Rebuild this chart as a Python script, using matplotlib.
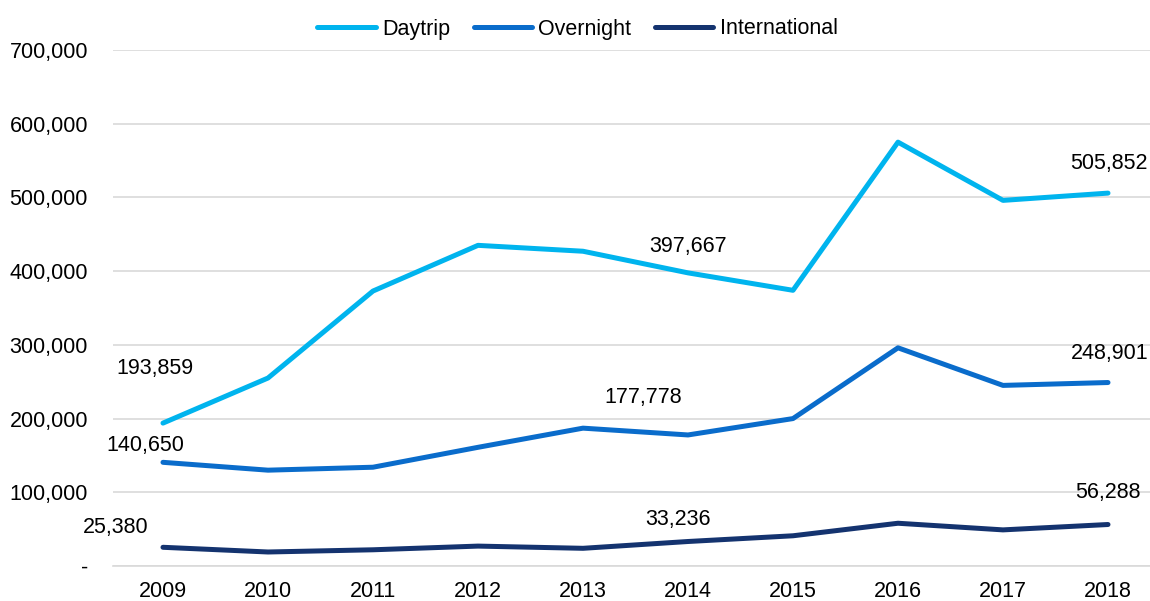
import matplotlib.pyplot as plt
from matplotlib.ticker import FuncFormatter

plt.rcParams['font.family'] = ['Liberation Sans', 'DejaVu Sans']

years = ['2009', '2010', '2011', '2012', '2013', '2014', '2015', '2016', '2017', '2018']
daytrip = [193859, 255000, 373000, 435000, 427000, 397667, 374000, 575000, 496000, 505852]
overnight = [140650, 130000, 134000, 161000, 187000, 177778, 200000, 296000, 245000, 248901]
international = [25380, 19000, 22000, 27000, 24000, 33236, 41000, 58000, 49000, 56288]

# which points get a value label, and where (offset in points)
labelled = {
    'Daytrip': [(0, (-6, 39)), (5, (0, 19)), (9, (1, 21))],
    'Overnight': [(0, (-13, 12)), (5, (-32, 27)), (9, (1, 21))],
    'International': [(0, (-34, 14)), (5, (-7, 16)), (9, (0, 23))],
}

FS = 15.5

fig = plt.figure(figsize=(11.5, 6.01), dpi=100)
ax = fig.add_axes([113 / 1150, 1 - 566 / 601, 1 - 113 / 1150, (566 - 50) / 601])

x = range(len(years))
series = [('Daytrip', daytrip, '#00B4EE'),
          ('Overnight', overnight, '#0A6CCB'),
          ('International', international, '#14336F')]
for name, vals, color in series:
    ax.plot(x, vals, color=color, lw=3.6, label=name, solid_capstyle='round')
    for i, off in labelled[name]:
        ax.annotate(f'{vals[i]:,}', (i, vals[i]), xytext=off, textcoords='offset points',
                    ha='center', va='center', fontsize=FS, color='#000000')

ax.set_xlim(-0.476, 9.4)
ax.set_ylim(0, 700000)
ax.set_xticks(list(x))
ax.set_xticklabels(years)
ax.set_yticks(range(0, 700001, 100000))
ax.yaxis.set_major_formatter(FuncFormatter(lambda v, p: '-' if v == 0 else f'{int(v):,}'))
ax.tick_params(axis='both', length=0, labelsize=FS, colors='#000000')
ax.tick_params(axis='y', pad=18)
ax.tick_params(axis='x', pad=11)
ax.grid(axis='y', color='#D9D9D9', lw=1.2)
ax.set_axisbelow(True)
for s in ['left', 'right', 'top']:
    ax.spines[s].set_visible(False)
ax.spines['bottom'].set_color('#D9D9D9')
ax.spines['bottom'].set_linewidth(1.2)

ax.legend(loc='center', bbox_to_anchor=(0.448, 1 + 21 / 516),
          ncol=3, frameon=False, fontsize=FS, handlelength=2.7, handletextpad=0.3,
          columnspacing=1.1, borderaxespad=0)

fig.savefig('out.png', dpi=100)
